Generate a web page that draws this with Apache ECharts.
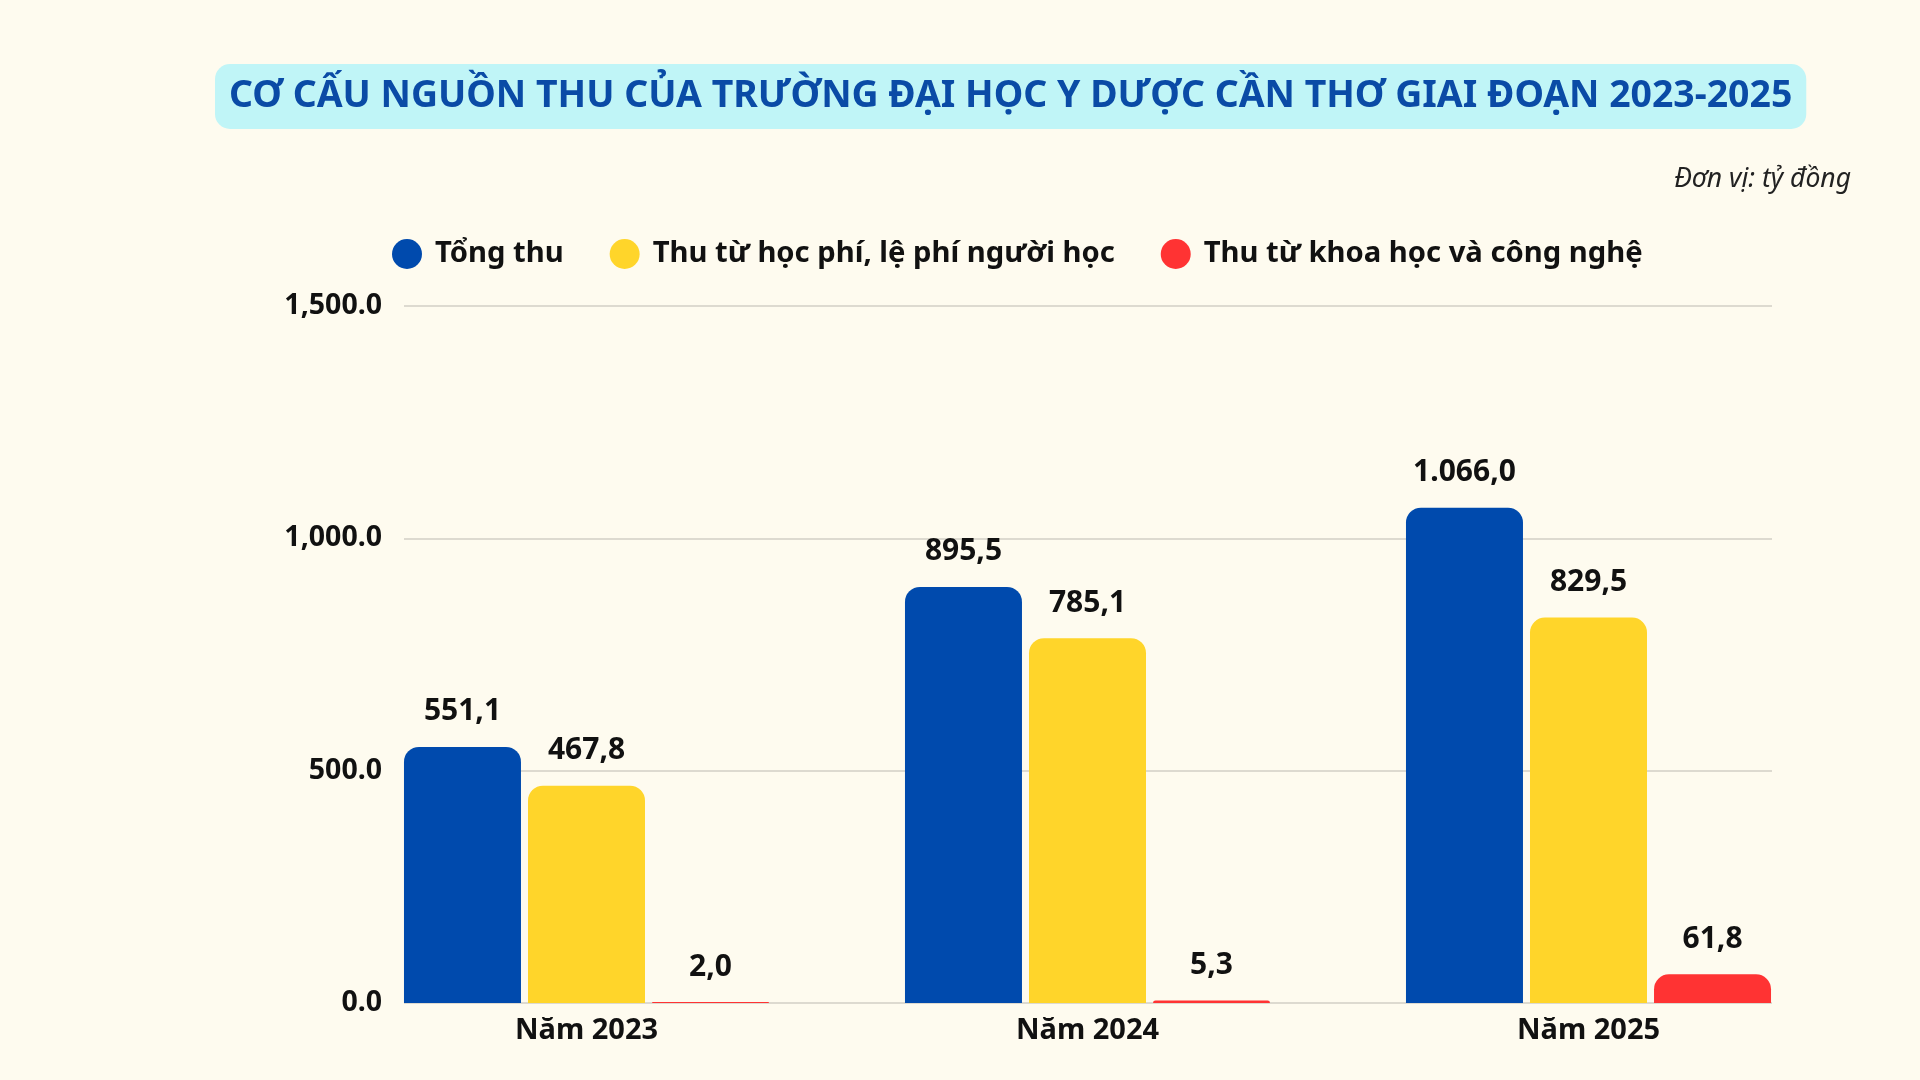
<!DOCTYPE html>
<html>
<head>
<meta charset="utf-8">
<title>Cơ cấu nguồn thu</title>
<script src="https://cdn.jsdelivr.net/npm/echarts@6/dist/echarts.min.js"></script>
<style>
  html, body { margin: 0; padding: 0; background: #fefbef; }
  #chart { width: 1920px; height: 1080px; }
</style>
</head>
<body>
<div id="chart"></div>
<script>
// dữ liệu (tỷ đồng)
const years = ['Năm 2023', 'Năm 2024', 'Năm 2025'];
const seriesNames = ['Tổng thu', 'Thu từ học phí, lệ phí người học', 'Thu từ khoa học và công nghệ'];
const tongThu = [551.1, 895.5, 1066.0];
const hocPhi = [467.8, 785.1, 829.5];
const khoaHoc = [2.0, 5.3, 61.8];
const yTicks = [0, 500, 1000, 1500];

const colors = ['#004aad', '#ffd52a', '#ff3333'];
const FONT = '"Noto Sans", sans-serif';

// 1.066,0 kiểu Việt Nam
function viNum(v) {
  let parts = v.toFixed(1).split('.');
  parts[0] = parts[0].replace(/\B(?=(\d{3})+(?!\d))/g, '.');
  return parts[0] + ',' + parts[1];
}
// 1,500.0 kiểu trục
function axisNum(v) {
  let parts = v.toFixed(1).split('.');
  parts[0] = parts[0].replace(/\B(?=(\d{3})+(?!\d))/g, ',');
  return parts[0] + '.' + parts[1];
}

const chart = echarts.init(document.getElementById('chart'));

function barSeries(name, data, color) {
  return {
    name: name,
    type: 'bar',
    xAxisIndex: 0,
    yAxisIndex: 0,
    data: data,
    barWidth: 117,
    barGap: '6%',
    itemStyle: { color: color, borderRadius: [15, 15, 0, 0] },
    label: {
      show: true,
      position: 'top',
      distance: 20,
      color: '#111',
      fontFamily: FONT,
      fontWeight: 'bold',
      fontSize: 30,
      formatter: p => viNum(p.value)
    }
  };
}

const option = {
  backgroundColor: '#fefbef',
  title: {
    text: 'CƠ CẤU NGUỒN THU CỦA TRƯỜNG ĐẠI HỌC Y DƯỢC CẦN THƠ GIAI ĐOẠN 2023-2025',
    left: 215,
    top: 64,
    padding: [13, 14, 13, 14],
    backgroundColor: '#c0f5f7',
    borderRadius: 15,
    textStyle: {
      color: '#0a4ba6',
      fontFamily: FONT,
      fontWeight: 'bold',
      fontSize: 37.4,
      lineHeight: 39
    }
  },
  graphic: [{
    type: 'text',
    right: 69,
    top: 166,
    style: {
      text: 'Đơn vị: tỷ đồng',
      fill: '#222',
      font: 'italic 26.5px "Noto Sans", sans-serif'
    }
  }],
  legend: {
    data: seriesNames,
    left: 387,
    top: 234,
    icon: 'circle',
    itemWidth: 30,
    itemHeight: 30,
    itemGap: 46,
    textStyle: {
      color: '#111',
      fontFamily: FONT,
      fontWeight: 'bold',
      fontSize: 29.2,
      padding: [0, 0, 0, 8]
    }
  },
  grid: [
    { left: 336, right: 81, top: 306, bottom: 77 },
    { left: 404, right: 148, top: 306, bottom: 77 }
  ],
  xAxis: [{
    gridIndex: 0,
    type: 'category',
    data: years,
    axisLine: { show: false },
    axisTick: { show: false },
    axisLabel: {
      margin: 13,
      color: '#111',
      fontFamily: FONT,
      fontWeight: 'bold',
      fontSize: 29
    }
  }, {
    gridIndex: 1,
    type: 'value',
    min: 0,
    max: 1,
    show: false
  }],
  yAxis: [{
    gridIndex: 0,
    type: 'value',
    min: yTicks[0],
    max: yTicks[yTicks.length - 1],
    interval: 500,
    show: false
  }, {
    gridIndex: 1,
    type: 'value',
    min: yTicks[0],
    max: yTicks[yTicks.length - 1],
    interval: 500,
    axisLine: { show: false },
    axisTick: { show: false },
    splitLine: { lineStyle: { color: '#dddad0', width: 2 } },
    axisLabel: {
      margin: 22,
      color: '#111',
      fontFamily: FONT,
      fontWeight: 'bold',
      fontSize: 28.5,
      formatter: v => axisNum(v)
    }
  }],
  series: [
    barSeries(seriesNames[0], tongThu, colors[0]),
    barSeries(seriesNames[1], hocPhi, colors[1]),
    barSeries(seriesNames[2], khoaHoc, colors[2])
  ]
};

chart.setOption(option);
</script>
</body>
</html>
